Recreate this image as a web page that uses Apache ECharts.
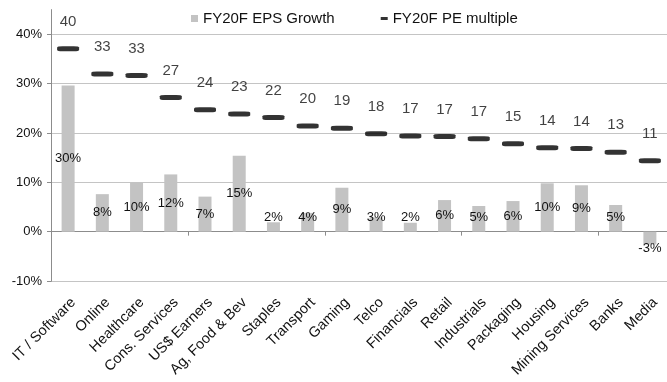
<!DOCTYPE html>
<html>
<head>
<meta charset="utf-8">
<script src="https://cdn.jsdelivr.net/npm/echarts@6/dist/echarts.min.js"></script>
<style>html,body{margin:0;padding:0;background:#fff}#c{width:667px;height:382px}</style>
</head>
<body>
<div id="c"></div>
<script>
const categories = ['IT / Software','Online','Healthcare','Cons. Services','US$ Earners','Ag, Food & Bev','Staples','Transport','Gaming','Telco','Financials','Retail','Industrials','Packaging','Housing','Mining Services','Banks','Media'];
const epsGrowth = [29.6, 7.6, 9.9, 11.6, 7.1, 15.4, 1.9, 3.8, 8.9, 2.9, 1.8, 6.4, 5.2, 6.2, 9.8, 9.4, 5.4, -2.6];
const peMultiple = [39.9, 33.4, 33.0, 27.3, 24.2, 23.1, 22.2, 20.0, 19.4, 18.0, 17.4, 17.3, 16.7, 15.4, 14.4, 14.2, 13.2, 11.0];
const seriesNames = ['FY20F EPS Growth', 'FY20F PE multiple'];

const FONT = 'Liberation Sans, Arial, sans-serif';
const TXT = '#111';
const AXIS = '#8c8c8c';
const GRID = '#c4c4c4';

const barData = epsGrowth.map(v => {
  let label;
  if (v < 0) label = {position: 'inside', offset: [0, 10]};
  else if (v < 6) label = {position: 'insideBottom', distance: 8};
  else label = {position: 'inside'};
  return {value: v, label: label};
});

const chart = echarts.init(document.getElementById('c'), null, {renderer: 'canvas'});
chart.setOption({
  animation: false,
  textStyle: {fontFamily: FONT},
  legend: {
    left: 186, top: 6,
    itemWidth: 7, itemHeight: 7, itemGap: 46,
    textStyle: {fontSize: 15, color: TXT, fontFamily: FONT},
    data: [
      {name: seriesNames[0], icon: 'rect'},
      {name: seriesNames[1], icon: 'path://M0,0H7V3H0Z'}
    ]
  },
  grid: [
    {left: 51, right: 0, top: 34.3, bottom: 101, containLabel: false},
    {left: 51, right: 0, top: 9.6, bottom: 101, containLabel: false}
  ],
  xAxis: [
    {type: 'category', gridIndex: 0, data: categories, show: false},
    {type: 'category', gridIndex: 1, data: categories, position: 'bottom',
     axisLine: {show: false, onZero: false}, axisTick: {show: false},
     axisLabel: {rotate: 45, fontSize: 14.5, color: TXT, fontFamily: FONT, margin: 14,
       verticalAlign: 'top', interval: 0}},
    {type: 'category', gridIndex: 1, data: categories, position: 'bottom',
     axisLine: {show: true, onZero: true, onZeroAxisIndex: 1, lineStyle: {color: AXIS, width: 1}},
     axisTick: {show: true, length: 4, lineStyle: {color: AXIS}},
     axisLabel: {show: false}}
  ],
  yAxis: [
    {type: 'value', gridIndex: 0, min: -10, max: 40, interval: 10,
     axisLine: {show: true, lineStyle: {color: AXIS}},
     axisTick: {show: true, length: 4, lineStyle: {color: AXIS}},
     axisLabel: {formatter: '{value}%', fontSize: 13, color: TXT, fontFamily: FONT, margin: 9},
     splitLine: {show: true, lineStyle: {color: GRID, width: 1}}},
    {type: 'value', gridIndex: 1, min: -10, max: 45,
     axisLine: {show: true, lineStyle: {color: AXIS}},
     axisTick: {show: false}, axisLabel: {show: false}, splitLine: {show: false}},
    {type: 'value', gridIndex: 1, min: -20, max: 50, position: 'right', show: false}
  ],
  series: [
    {name: seriesNames[0], type: 'bar', xAxisIndex: 1, yAxisIndex: 1,
     barWidth: 13, itemStyle: {color: '#c3c3c3'},
     label: {show: true, fontSize: 13, color: TXT, fontFamily: FONT,
       formatter: p => Math.round(p.value) + '%'},
     data: barData},
    {name: seriesNames[1], type: 'scatter', xAxisIndex: 1, yAxisIndex: 2,
     symbol: 'roundRect', symbolSize: [22, 5], itemStyle: {color: '#000'},
     label: {show: true, position: 'top', distance: 17, fontSize: 15, color: TXT, fontFamily: FONT,
       formatter: p => Math.round(p.value)},
     data: peMultiple}
  ]
});
</script>
</body>
</html>
